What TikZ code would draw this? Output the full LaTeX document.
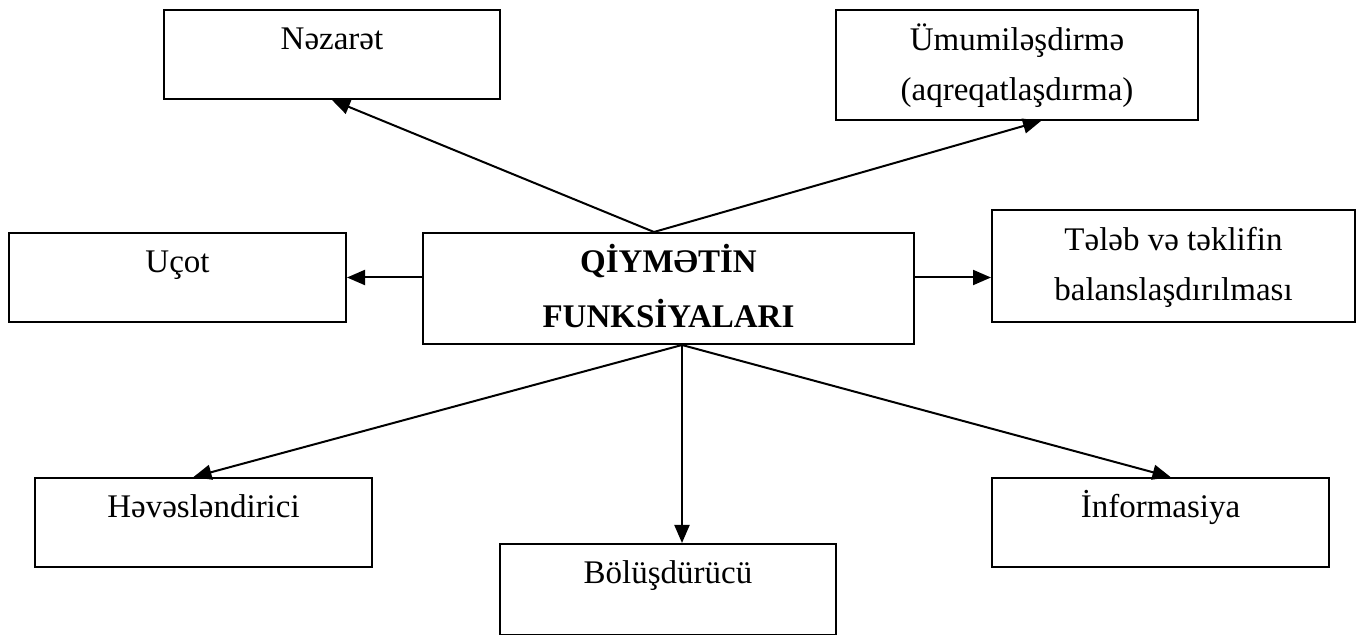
\documentclass[tikz,border=0pt]{standalone}
\usepackage{fontspec}
\setmainfont{Liberation Serif}
\usetikzlibrary{arrows.meta, positioning}
\tikzset{
  box/.style={
    rectangle, draw, line width=1pt, inner sep=0pt, anchor=north west,
    align=center, font=\fontsize{16.5}{25}\selectfont
  },
  onebox/.style={box, text height=20pt, text depth=24.5pt},
  twobox/.style={box, text height=45.5pt, text depth=9.5pt},
  mainbox/.style={box, text height=47.5pt, text depth=8pt,
    font=\fontsize{16.5}{27.5}\selectfont\bfseries},
  arrow/.style={-{Triangle[length=9pt,width=7.5pt]}, line width=1pt}
}
\begin{document}
\begin{tikzpicture}[x=0.5pt, y=-0.5pt]
  \useasboundingbox (0,0) rectangle (1362,635);

  \node[mainbox, minimum width=245.5pt] (funk) at (422,232) {QİYMƏTİN\\FUNKSİYALARI};
  \node[onebox, minimum width=168pt] (nezaret) at (163,9) {Nəzarət};
  \node[twobox, minimum width=181pt] (umumi) at (835,9) {Ümumiləşdirmə\\(aqreqatlaşdırma)};
  \node[onebox, minimum width=168.5pt] (ucot) at (8,232) {Uçot};
  \node[twobox, minimum width=181.5pt, text depth=10.5pt] (teleb) at (991,209) {Tələb və təklifin\\balanslaşdırılması};
  \node[onebox, minimum width=168.5pt] (heves) at (34,477) {Həvəsləndirici};
  \node[onebox, minimum width=168pt, text depth=25.5pt] (bolus) at (499,543) {Bölüşdürücü};
  \node[onebox, minimum width=168.5pt] (info) at (991,477) {İnformasiya};

  \coordinate (ctop) at ([xshift=-7.25pt]funk.north);
  \coordinate (cbot) at ([xshift=6.75pt]funk.south);

  \draw[arrow] (ctop) -- (nezaret.south);
  \draw[arrow] (ctop) -- ([xshift=12pt]umumi.south);
  \draw[arrow] (funk.west |- ucot.east) -- (ucot.east);
  \draw[arrow] (funk.east |- ucot.east) -- (teleb.west |- ucot.east);
  \draw[arrow] (cbot) -- ([xshift=-5pt]heves.north);
  \draw[arrow] (cbot) -- (cbot |- bolus.north);
  \draw[arrow] (cbot) -- ([xshift=5pt]info.north);
\end{tikzpicture}
\end{document}
